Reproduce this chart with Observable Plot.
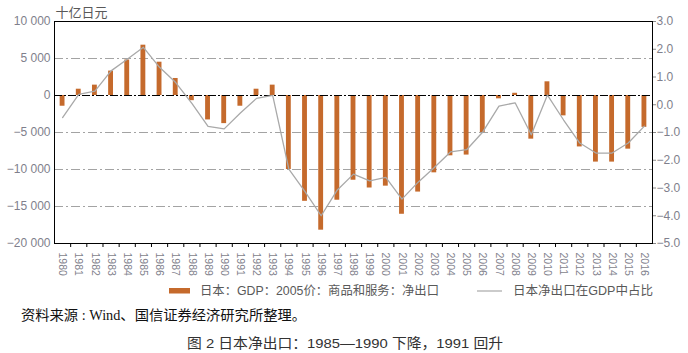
<!DOCTYPE html>
<html><head><meta charset="utf-8">
<script src="https://cdn.jsdelivr.net/npm/d3@7"></script>
<script src="https://cdn.jsdelivr.net/npm/@observablehq/plot@0.6"></script>
<style>
body{margin:0;background:#fff;}
#wrap{position:relative;width:688px;height:353px;overflow:hidden;font-family:"Liberation Sans","Noto Sans CJK SC",sans-serif;}
#chart{position:absolute;left:0;top:0;}
#over{position:absolute;left:0;top:0;}
</style></head>
<body>
<div id="wrap"><div id="chart"></div>
<svg id="over" width="688" height="353">
  <rect x="169" y="288" width="21" height="5.5" fill="#c56a2c"/>
  <text x="200" y="295" font-size="12.5" fill="#595959" textLength="239" lengthAdjust="spacingAndGlyphs" font-family="Liberation Sans, Noto Sans CJK SC">日本：GDP：2005价：商品和服务：净出口</text>
  <line x1="477" x2="502" y1="291" y2="291" stroke="#a9a9a9" stroke-width="1.2"/>
  <text x="513" y="295" font-size="12.5" fill="#595959" textLength="140" lengthAdjust="spacingAndGlyphs" font-family="Liberation Sans, Noto Sans CJK SC">日本净出口在GDP中占比</text>
  <text x="21" y="320" font-size="14" fill="#111" textLength="285" lengthAdjust="spacingAndGlyphs" font-family="Liberation Serif, Noto Sans CJK SC">资料来源 : Wind、国信证券经济研究所整理。</text>
  <text x="187" y="347.5" font-size="13.5" fill="#333" textLength="316" lengthAdjust="spacingAndGlyphs" font-family="Liberation Sans, Noto Sans CJK SC">图 2  日本净出口：1985—1990 下降，1991 回升</text>
</svg>
</div>
<script>
const years = [1980,1981,1982,1983,1984,1985,1986,1987,1988,1989,1990,1991,1992,1993,1994,1995,1996,1997,1998,1999,2000,2001,2002,2003,2004,2005,2006,2007,2008,2009,2010,2011,2012,2013,2014,2015,2016];
const netExports = [-1450,850,1400,3300,4800,6800,4500,2300,-700,-3300,-3800,-1450,850,1400,-10000,-14300,-18200,-14150,-11450,-12500,-12250,-16050,-13050,-10450,-8150,-8050,-5000,-450,300,-5900,1850,-2750,-6950,-9000,-9000,-7250,-4300];
const ratioPct = [-0.46,0.37,0.49,1.22,1.64,2.07,1.35,0.8,0.05,-0.78,-0.87,-0.3,0.23,0.34,-2.32,-3.13,-4.0,-3.07,-2.5,-2.74,-2.62,-3.4,-2.79,-2.26,-1.70,-1.62,-0.98,-0.05,0.07,-1.08,0.35,-0.55,-1.38,-1.74,-1.74,-1.38,-0.77];
const leftTicks = [10000,5000,0,-5000,-10000,-15000,-20000];
const rightTicks = [3,2,1,0,-1,-2,-3,-4,-5];
const gridLines = [5000,-5000,-10000,-15000];
const unitLabel = "十亿日元";

const leftDomain = [-20000, 10000];
const rightDomain = [-5, 3];
const k = (leftDomain[1]-leftDomain[0])/(rightDomain[1]-rightDomain[0]);
const toLeft = r => leftDomain[0] + (r - rightDomain[0]) * k;
const fromLeft = v => (v - leftDomain[0]) / k + rightDomain[0];

const data = years.map((year,i)=>({year, value: netExports[i], ratio: ratioPct[i]}));
const boundaries = years.slice(1).map(y => y - 0.5);

const locale = d3.formatLocale({decimal:".", thousands:" ", grouping:[3], currency:["",""], minus:"\u2212"});
const fmtL = locale.format(",");
const fmtR = locale.format(".1f");
const half = 0.15;

const chart = Plot.plot({
  width: 688, height: 282,
  marginTop: 21, marginBottom: 39, marginLeft: 54, marginRight: 36,
  style: {fontFamily: "Liberation Sans, Noto Sans CJK SC, sans-serif", background: "transparent"},
  x: {type: "linear", domain: [years[0]-0.5, years[years.length-1]+0.5], axis: null},
  y: {domain: leftDomain, axis: null},
  marks: [
    Plot.ruleY(gridLines, {stroke: "#a3a3a3", strokeWidth: 1, strokeDasharray: "9,3,2,3"}),
    Plot.rectY(data, {x1: d => d.year - half, x2: d => d.year + half, y1: 0, y2: "value", fill: "#c56a2c"}),
    Plot.ruleY([0], {stroke: "black", strokeWidth: 1, strokeDasharray: "8,2,2,2"}),
    Plot.line(data, {x: "year", y: d => toLeft(d.ratio), stroke: "#a9a9a9", strokeWidth: 1.3}),
    Plot.frame({stroke: "black", strokeWidth: 1}),
    Plot.axisY({anchor: "left", ticks: leftTicks, tickSize: 0, tickPadding: 4, tickFormat: fmtL, label: null, fill: "#7f7f8c", fontSize: 12}),
    Plot.axisY({anchor: "right", ticks: rightTicks.map(toLeft), tickSize: 3, tickPadding: 1, tickFormat: v => fmtR(fromLeft(v)), label: null, fill: "#7f7f8c", stroke: "#888", fontSize: 12}),
    Plot.axisX({ticks: boundaries, tickSize: 4, tickFormat: () => "", label: null, stroke: "black"}),
    Plot.axisX({ticks: years, tickSize: 0, tickPadding: 9, tickRotate: 90, tickFormat: d => String(d), label: null, fill: "#7f7f8c", fontSize: 10.5}),
    Plot.text([unitLabel], {frameAnchor: "top-left", dy: -9, dx: 1, text: d => d, textAnchor: "start", lineAnchor: "middle", fill: "#595959", fontSize: 13})
  ]
});
document.getElementById("chart").appendChild(chart);
</script>
</body></html>
